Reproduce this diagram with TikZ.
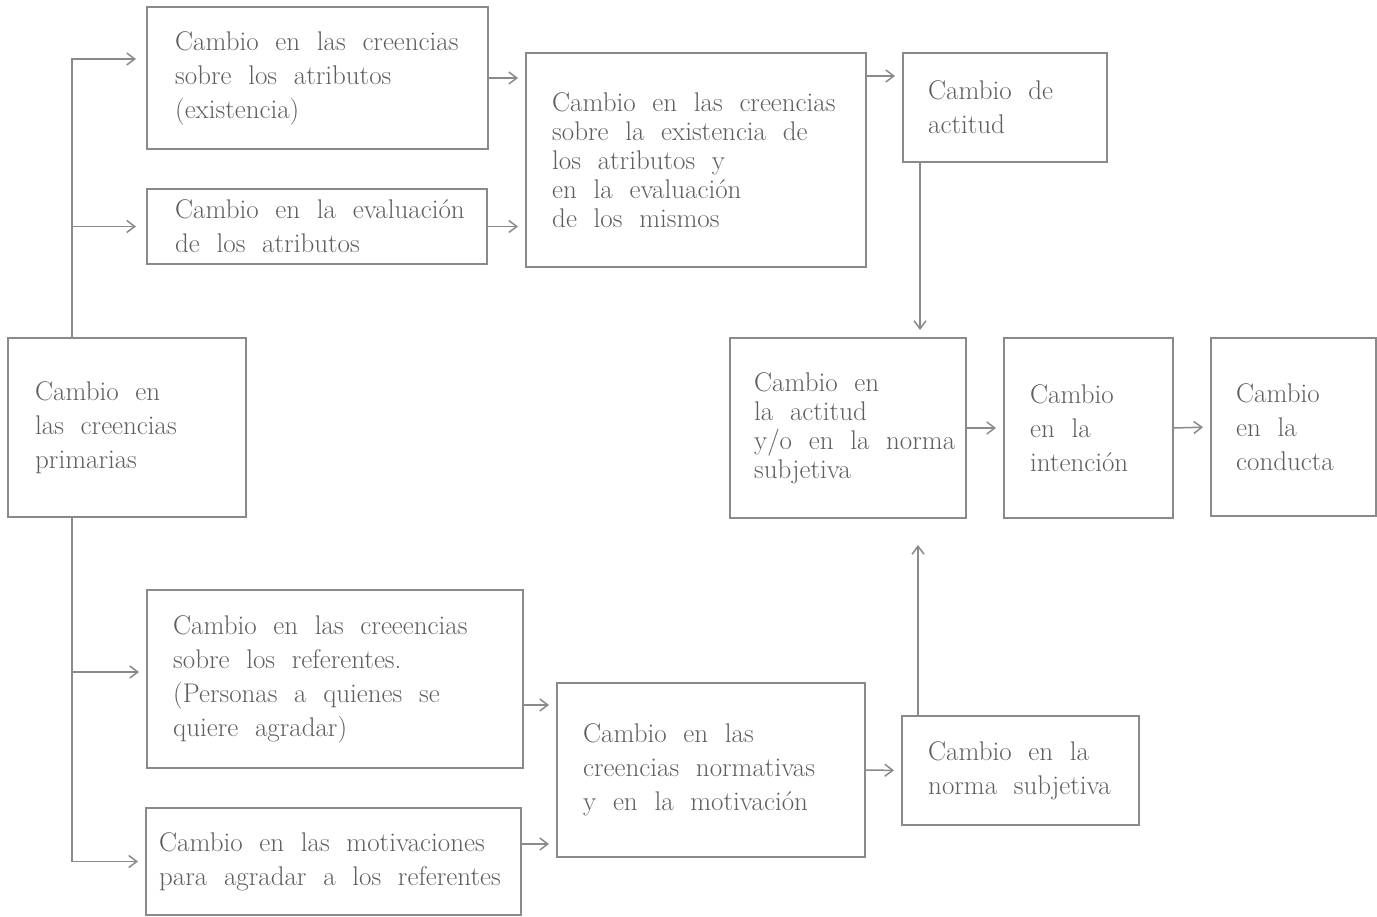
\documentclass[tikz,border=0pt]{standalone}
\usetikzlibrary{arrows.meta,positioning,calc}
\definecolor{inkgray}{HTML}{5E5E5E}
\definecolor{rulegray}{HTML}{8A8A8A}
\newcommand\widewords{\spaceskip 0.62em plus 0.1em minus 0.05em\relax}

\begin{document}
\begin{tikzpicture}[x=1pt,y=-1pt,>={Straight Barb[length=8pt,width=12pt]},
    box/.style={draw=rulegray,line width=2pt,inner sep=0pt},
    txt/.style={inner sep=0pt,align=left,text=inkgray,
      font=\fontsize{27}{34}\selectfont\widewords},
    tight/.style={font=\fontsize{27}{29}\selectfont\widewords},
    link/.style={draw=rulegray,line width=1.5pt,->,shorten >=7pt}]

    \useasboundingbox (0,0) rectangle (1377,917);

    % upper branch: attributes
    \node[box,minimum width=341pt,minimum height=142pt] (A1) at (317.5,78) {};
    \node[txt,right=29pt of A1.west] (A1t) {Cambio en las creencias\\sobre los atributos\\(existencia)};
    \node[box,minimum width=340pt,minimum height=75pt] (A2) at (317,226.5) {};
    \node[txt,right=29pt of A2.west] (A2t) {Cambio en la evaluación\\de los atributos};
    \node[box,minimum width=340pt,minimum height=214pt] (B) at (696,160) {};
    \node[txt,tight,right=27pt of B.west] (Bt) {Cambio en las creencias\\sobre la existencia de\\los atributos y\\en la evaluación\\de los mismos};
    \node[box,minimum width=204pt,minimum height=109pt] (C) at (1005,107.5) {};
    \node[txt,right=26pt of C.west] (Ct) {Cambio de\\actitud};

    % middle row
    \node[box,minimum width=238pt,minimum height=179pt] (P) at (127,427.5) {};
    \node[txt,right=28pt of P.west] (Pt) {Cambio en\\las creencias\\primarias};
    \node[box,minimum width=236pt,minimum height=180pt] (D) at (848,428) {};
    \node[txt,tight,right=25pt of D.west] (Dt) {Cambio en\\la actitud\\y/o en la norma\\subjetiva};
    \node[box,minimum width=169pt,minimum height=180pt] (E) at (1088.5,428) {};
    \node[txt,right=27pt of E.west] (Et) {Cambio\\en la\\intención};
    \node[box,minimum width=165pt,minimum height=178pt] (F) at (1293.5,427) {};
    \node[txt,right=26pt of F.west] (Ft) {Cambio\\en la\\conducta};

    % lower branch: referents
    \node[box,minimum width=376pt,minimum height=178pt] (G1) at (335,679) {};
    \node[txt,right=27pt of G1.west] (G1t) {Cambio en las creeencias\\sobre los referentes.\\(Personas a quienes se\\quiere agradar)};
    \node[box,minimum width=375pt,minimum height=107pt] (G2) at (333.5,861.5) {};
    \node[txt,right=14pt of G2.west] (G2t) {Cambio en las motivaciones\\para agradar a los referentes};
    \node[box,minimum width=308pt,minimum height=174pt] (H) at (711,770) {};
    \node[txt,right=27pt of H.west] (Ht) {Cambio en las\\creencias normativas\\y en la motivación};
    \node[box,minimum width=237pt,minimum height=109pt] (I) at (1020.5,770.5) {};
    \node[txt,right=27pt of I.west] (It) {Cambio en la\\norma subjetiva};

    % connectors
    \coordinate (Ptop) at ($(P.north west)+(65,0)$);
    \coordinate (A1in) at ($(A1.north west)+(0,53)$);
    \draw[link,shorten >=10pt] (Ptop) |- (A1in);
    \draw[link,shorten >=10pt] (Ptop |- A2.west) -- (A2.west);
    \coordinate (Pbot) at ($(P.south west)+(65,0)$);
    \coordinate (G1in) at ($(G1.north west)+(0,83)$);
    \draw[link] (Pbot) |- (G2.west);
    \draw[link] (Pbot |- G1in) -- (G1in);

    \draw[link] (A1.east) -- (B.west |- A1.east);
    \draw[link] (A2.east) -- (B.west |- A2.east);
    \coordinate (Cin) at ($(C.north west)+(0,24)$);
    \draw[link] (B.east |- Cin) -- (Cin);
    \coordinate (Cout) at ($(C.south west)+(18,0)$);
    \draw[link] (Cout) -- (Cout |- D.north);

    \draw[link] (D.east) -- (E.west);
    \draw[link] (E.east) -- (F.west);

    \coordinate (Hin1) at ($(H.north west)+(0,23)$);
    \draw[link] (G1.east |- Hin1) -- (Hin1);
    \coordinate (Hin2) at ($(H.south west)+(0,-14)$);
    \draw[link] (G2.east |- Hin2) -- (Hin2);
    \draw[link] (H.east) -- (I.west);
    \coordinate (Iout) at ($(I.north west)+(17,0)$);
    \draw[link,shorten >=26pt] (Iout) -- (Iout |- D.south);
\end{tikzpicture}
\end{document}
